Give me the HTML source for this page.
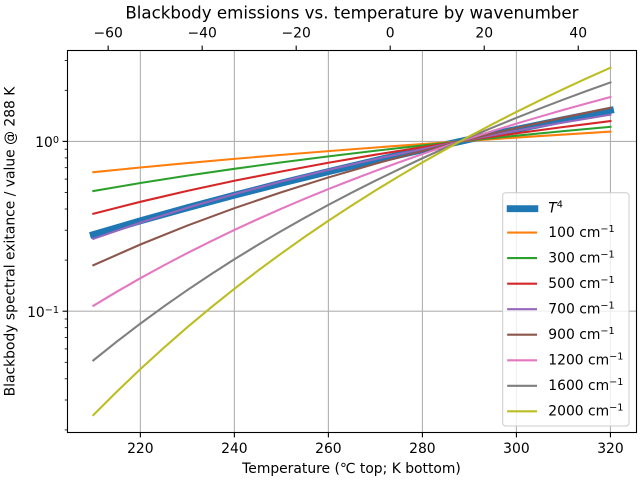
<!DOCTYPE html>
<html>
<head>
<meta charset="utf-8">
<style>
  html, body { margin: 0; padding: 0; background: #ffffff; }
  svg { display: block; }
  text { font-family: "DejaVu Sans", "Liberation Sans", sans-serif; fill: #000; }
</style>
</head>
<body>
<svg width="640" height="480" viewBox="0 0 640 480" xmlns="http://www.w3.org/2000/svg">
  <rect x="0" y="0" width="640" height="480" fill="#ffffff"/>

  <!-- grid -->
  <g stroke="#b0b0b0" stroke-width="1.1">
    <line x1="140.36" y1="50.4" x2="140.36" y2="432.5"/>
    <line x1="234.38" y1="50.4" x2="234.38" y2="432.5"/>
    <line x1="328.39" y1="50.4" x2="328.39" y2="432.5"/>
    <line x1="422.41" y1="50.4" x2="422.41" y2="432.5"/>
    <line x1="516.42" y1="50.4" x2="516.42" y2="432.5"/>
    <line x1="610.44" y1="50.4" x2="610.44" y2="432.5"/>
    <line x1="67.5" y1="141.4" x2="636.3" y2="141.4"/>
    <line x1="67.5" y1="311.2" x2="636.3" y2="311.2"/>
  </g>

  <!-- data lines -->
  <g fill="none" stroke-linecap="square" stroke-linejoin="round">
    <polyline stroke="#1f77b4" stroke-width="6.94" points="93.35,234.57 140.36,220.85 187.37,207.73 234.38,195.18 281.38,183.14 328.39,171.57 375.40,160.44 422.41,149.71 469.42,139.36 516.42,129.36 563.43,119.69 610.44,110.32"/>
    <polyline stroke="#ff7f0e" stroke-width="2.08" points="93.35,172.21 140.36,167.50 187.37,163.06 234.38,158.86 281.38,154.88 328.39,151.10 375.40,147.49 422.41,144.05 469.42,140.75 516.42,137.59 563.43,134.56 610.44,131.64"/>
    <polyline stroke="#2ca02c" stroke-width="2.08" points="93.35,190.99 140.36,183.03 187.37,175.66 234.38,168.80 281.38,162.40 328.39,156.40 375.40,150.76 422.41,145.44 469.42,140.42 516.42,135.66 563.43,131.14 610.44,126.84"/>
    <polyline stroke="#d62728" stroke-width="2.08" points="93.35,213.71 140.36,201.81 187.37,190.88 234.38,180.79 281.38,171.46 328.39,162.78 375.40,154.69 422.41,147.12 469.42,140.01 516.42,133.33 563.43,127.03 610.44,121.08"/>
    <polyline stroke="#9467bd" stroke-width="2.08" points="93.35,238.84 140.36,222.62 187.37,207.77 234.38,194.13 281.38,181.54 328.39,169.89 375.40,159.07 422.41,148.99 469.42,139.57 516.42,130.74 563.43,122.45 610.44,114.64"/>
    <polyline stroke="#8c564b" stroke-width="2.08" points="93.35,265.22 140.36,244.50 187.37,225.57 234.38,208.20 281.38,192.21 328.39,177.43 375.40,163.72 422.41,150.97 469.42,139.09 516.42,127.97 563.43,117.56 610.44,107.77"/>
    <polyline stroke="#e377c2" stroke-width="2.08" points="93.35,305.77 116.86,291.69 140.36,278.20 163.87,265.36 187.37,253.03 210.88,241.26 234.38,229.95 257.88,219.13 281.38,208.71 304.89,198.72 328.39,189.10 351.90,179.85 375.40,170.93 398.91,162.35 422.41,154.06 445.92,146.07 469.42,138.34 492.92,130.89 516.42,123.67 539.93,116.69 563.43,109.93 586.94,103.39 610.44,97.04"/>
    <polyline stroke="#7f7f7f" stroke-width="2.08" points="93.35,360.36 116.86,341.57 140.36,323.61 163.87,306.46 187.37,290.06 210.88,274.36 234.38,259.31 257.88,244.87 281.38,231.01 304.89,217.69 328.39,204.89 351.90,192.57 375.40,180.71 398.91,169.28 422.41,158.25 445.92,147.61 469.42,137.33 492.92,127.40 516.42,117.81 539.93,108.53 563.43,99.55 586.94,90.85 610.44,82.43"/>
    <polyline stroke="#bcbd22" stroke-width="2.08" points="93.35,415.07 116.86,391.58 140.36,369.14 163.87,347.71 187.37,327.21 210.88,307.58 234.38,288.76 257.88,270.72 281.38,253.40 304.89,236.75 328.39,220.75 351.90,205.35 375.40,190.52 398.91,176.23 422.41,162.45 445.92,149.16 469.42,136.32 492.92,123.92 516.42,111.93 539.93,100.33 563.43,89.11 586.94,78.24 610.44,67.71"/>
  </g>

  <!-- axes frame -->
  <rect x="67.5" y="50.5" width="569" height="382" fill="none" stroke="#000" stroke-width="1.1"/>

  <!-- ticks -->
  <g stroke="#000" stroke-width="1.1">
    <line x1="140.36" y1="432.5" x2="140.36" y2="437.4"/>
    <line x1="234.38" y1="432.5" x2="234.38" y2="437.4"/>
    <line x1="328.39" y1="432.5" x2="328.39" y2="437.4"/>
    <line x1="422.41" y1="432.5" x2="422.41" y2="437.4"/>
    <line x1="516.42" y1="432.5" x2="516.42" y2="437.4"/>
    <line x1="610.44" y1="432.5" x2="610.44" y2="437.4"/>
    <line x1="108.16" y1="50.5" x2="108.16" y2="45.6"/>
    <line x1="202.18" y1="50.5" x2="202.18" y2="45.6"/>
    <line x1="296.19" y1="50.5" x2="296.19" y2="45.6"/>
    <line x1="390.21" y1="50.5" x2="390.21" y2="45.6"/>
    <line x1="484.22" y1="50.5" x2="484.22" y2="45.6"/>
    <line x1="578.24" y1="50.5" x2="578.24" y2="45.6"/>
    <line x1="62.6" y1="141.4" x2="67.5" y2="141.4"/>
    <line x1="62.6" y1="311.2" x2="67.5" y2="311.2"/>
  </g>
  <g stroke="#000" stroke-width="0.8">
    <line x1="64.7" y1="90.3" x2="67.5" y2="90.3"/>
    <line x1="64.7" y1="60.4" x2="67.5" y2="60.4"/>
    <line x1="64.7" y1="149.2" x2="67.5" y2="149.2"/>
    <line x1="64.7" y1="157.9" x2="67.5" y2="157.9"/>
    <line x1="64.7" y1="167.7" x2="67.5" y2="167.7"/>
    <line x1="64.7" y1="179.1" x2="67.5" y2="179.1"/>
    <line x1="64.7" y1="192.5" x2="67.5" y2="192.5"/>
    <line x1="64.7" y1="209.0" x2="67.5" y2="209.0"/>
    <line x1="64.7" y1="230.2" x2="67.5" y2="230.2"/>
    <line x1="64.7" y1="260.1" x2="67.5" y2="260.1"/>
    <line x1="64.7" y1="319.0" x2="67.5" y2="319.0"/>
    <line x1="64.7" y1="327.7" x2="67.5" y2="327.7"/>
    <line x1="64.7" y1="337.5" x2="67.5" y2="337.5"/>
    <line x1="64.7" y1="348.9" x2="67.5" y2="348.9"/>
    <line x1="64.7" y1="362.3" x2="67.5" y2="362.3"/>
    <line x1="64.7" y1="378.8" x2="67.5" y2="378.8"/>
    <line x1="64.7" y1="400.0" x2="67.5" y2="400.0"/>
    <line x1="64.7" y1="429.9" x2="67.5" y2="429.9"/>
  </g>

  <!-- tick labels -->
  <g font-size="13.89" text-anchor="middle">
    <text x="140.36" y="453">220</text>
    <text x="234.38" y="453">240</text>
    <text x="328.39" y="453">260</text>
    <text x="422.41" y="453">280</text>
    <text x="516.42" y="453">300</text>
    <text x="610.44" y="453">320</text>

    <text x="108.16" y="37.6">−60</text>
    <text x="202.18" y="37.6">−40</text>
    <text x="296.19" y="37.6">−20</text>
    <text x="390.21" y="37.6">0</text>
    <text x="484.22" y="37.6">20</text>
    <text x="578.24" y="37.6">40</text>
  </g>
  <g font-size="13.89" text-anchor="end">
    <text x="59" y="147.2">10<tspan font-size="9.7" dy="-4.2">0</tspan></text>
    <text x="59" y="317">10<tspan font-size="9.7" dy="-4.2">−1</tspan></text>
  </g>

  <!-- title and axis labels -->
  <text x="351.9" y="18.3" font-size="16.67" text-anchor="middle">Blackbody emissions vs. temperature by wavenumber</text>
  <text x="351.5" y="473" font-size="13.89" text-anchor="middle">Temperature (℃ top; K bottom)</text>
  <text transform="translate(14.5,241.5) rotate(-90)" font-size="13.89" text-anchor="middle">Blackbody spectral exitance / value @ 288 K</text>

  <!-- legend -->
  <rect x="502.7" y="192.7" width="126.3" height="233.3" rx="3" ry="3" fill="#ffffff" fill-opacity="0.8" stroke="#cccccc" stroke-width="1"/>
  <g fill="none" stroke-linecap="square">
    <line x1="510.2" y1="208.7" x2="534.8" y2="208.7" stroke="#1f77b4" stroke-width="6.94"/>
    <line x1="508.2" y1="232.6" x2="536.0" y2="232.6" stroke="#ff7f0e" stroke-width="2.08"/>
    <line x1="508.2" y1="258.1" x2="536.0" y2="258.1" stroke="#2ca02c" stroke-width="2.08"/>
    <line x1="508.2" y1="283.7" x2="536.0" y2="283.7" stroke="#d62728" stroke-width="2.08"/>
    <line x1="508.2" y1="309.2" x2="536.0" y2="309.2" stroke="#9467bd" stroke-width="2.08"/>
    <line x1="508.2" y1="334.7" x2="536.0" y2="334.7" stroke="#8c564b" stroke-width="2.08"/>
    <line x1="508.2" y1="360.3" x2="536.0" y2="360.3" stroke="#e377c2" stroke-width="2.08"/>
    <line x1="508.2" y1="385.8" x2="536.0" y2="385.8" stroke="#7f7f7f" stroke-width="2.08"/>
    <line x1="508.2" y1="411.3" x2="536.0" y2="411.3" stroke="#bcbd22" stroke-width="2.08"/>
  </g>
  <g font-size="13.89">
    <text x="548.3" y="212.5"><tspan font-style="italic">T</tspan><tspan font-size="9.7" dy="-5">4</tspan></text>
    <text x="548.3" y="237.0">100 cm<tspan font-size="9.7" dy="-5">−1</tspan></text>
    <text x="548.3" y="262.5">300 cm<tspan font-size="9.7" dy="-5">−1</tspan></text>
    <text x="548.3" y="288.1">500 cm<tspan font-size="9.7" dy="-5">−1</tspan></text>
    <text x="548.3" y="313.6">700 cm<tspan font-size="9.7" dy="-5">−1</tspan></text>
    <text x="548.3" y="339.1">900 cm<tspan font-size="9.7" dy="-5">−1</tspan></text>
    <text x="548.3" y="364.7">1200 cm<tspan font-size="9.7" dy="-5">−1</tspan></text>
    <text x="548.3" y="390.2">1600 cm<tspan font-size="9.7" dy="-5">−1</tspan></text>
    <text x="548.3" y="415.7">2000 cm<tspan font-size="9.7" dy="-5">−1</tspan></text>
  </g>
</svg>
</body>
</html>
